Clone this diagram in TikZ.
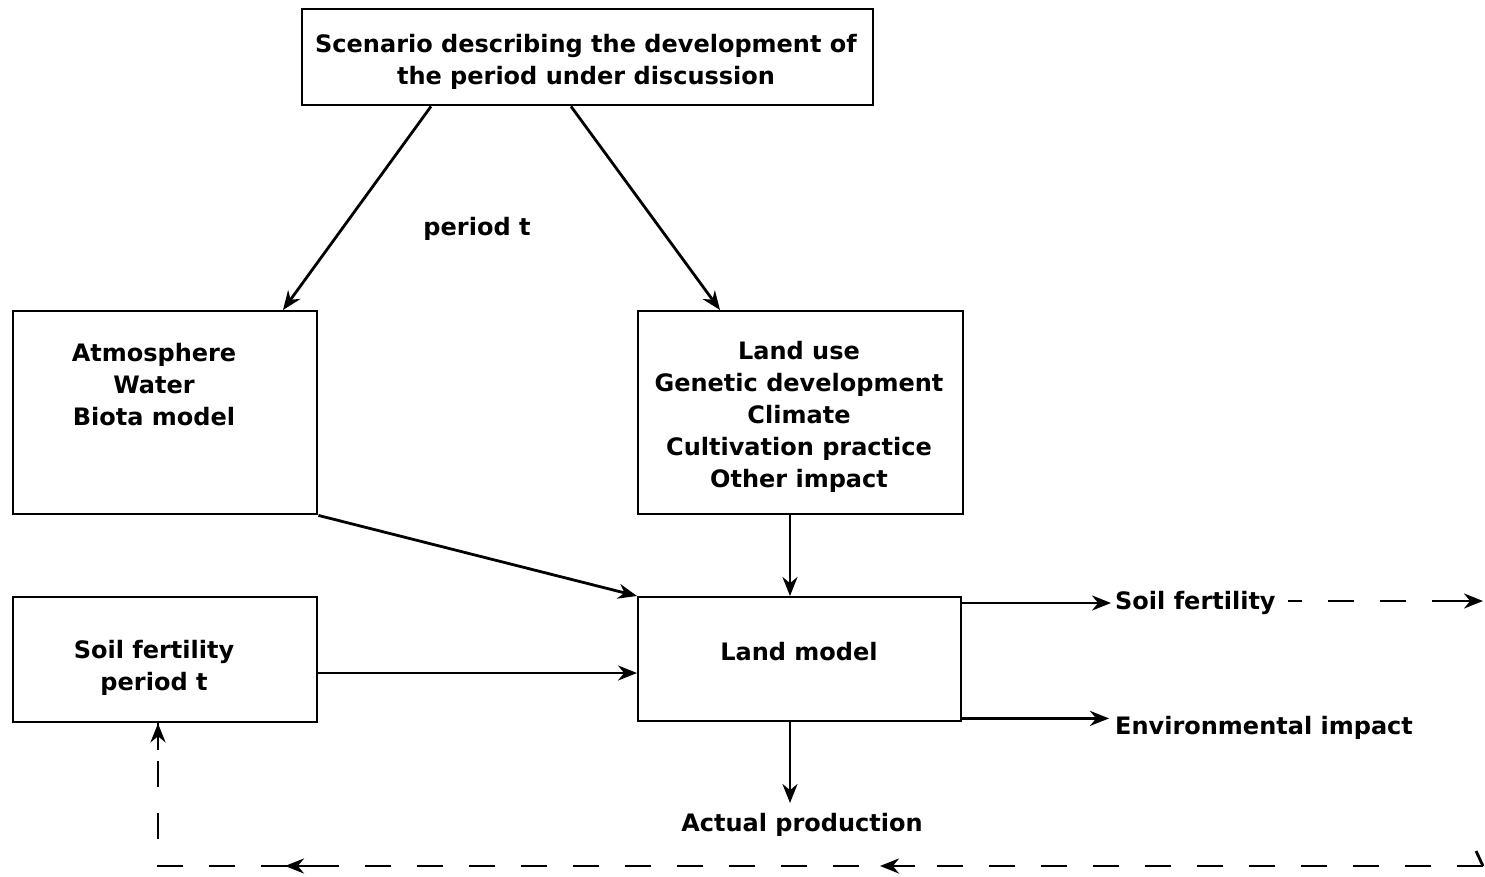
\documentclass[tikz,border=0pt]{standalone}
\usepackage{fontspec}
\setmainfont{DejaVu Sans}
\usetikzlibrary{arrows.meta}
\begin{document}
\begin{tikzpicture}[x=1pt,y=-1pt,
  box/.style={draw,line width=2.4pt},
  txt/.style={font=\fontsize{24}{32}\selectfont\bfseries,align=center,inner sep=0pt},
  tip/.style={-{Stealth[length=19pt,width=15pt]}},
  con/.style={line width=2.8pt,tip},
  dcon/.style={line width=2.8pt,dash pattern=on 26pt off 26pt}]
\useasboundingbox (0,0) rectangle (1485,876);
% boxes
\node[box,minimum width=571pt,minimum height=96pt,anchor=north west] (scen) at (301,8) {};
\node[txt] (scent) at (586,62) {Scenario describing the development of\\the period under discussion};
\node[box,minimum width=304pt,minimum height=203pt,anchor=north west] (atm) at (12,310) {};
\node[txt] (atmt) at (154,385) {Atmosphere\\Water\\Biota model};
\node[box,minimum width=325pt,minimum height=203pt,anchor=north west] (luse) at (637,310) {};
\node[txt] (luset) at (799,417) {Land use\\Genetic development\\Climate\\Cultivation practice\\Other impact};
\node[box,minimum width=304pt,minimum height=125pt,anchor=north west] (soil) at (12,596) {};
\node[txt] (soilt) at (154,668) {Soil fertility\\period t};
\node[box,minimum width=323pt,minimum height=124pt,anchor=north west] (land) at (637,596) {};
\node[txt] (landt) at (799,652) {Land model};
% labels
\node[txt] (pt) at (477,229) {period t};
\node[txt,anchor=west] (sf) at (1115,603) {Soil fertility};
\node[txt,anchor=west] (ei) at (1115,728) {Environmental impact};
\node[txt] (ap) at (802,825) {Actual production};
% connector end points
\path (scen.south west) ++(130,0) coordinate (s1);
\path (atm.north west) ++(271,0) coordinate (a1);
\path (scen.south west) ++(270,0) coordinate (s2);
\path (luse.north west) ++(83,0) coordinate (l1);
\path (luse.south west) ++(153,0) coordinate (l2);
\path (land.north east) ++(0,7) coordinate (r1);
\path (land.south east) ++(0,-4) coordinate (r2);
% connectors
\draw[con] (s1) -- (a1);
\draw[con] (s2) -- (l1);
\draw[con] (atm.south east) -- (land.north west);
\draw[con] (l2) -- (l2 |- land.north);
\draw[con] (soil.east |- 0,673) -- (land.west |- 0,673);
\draw[con] (r1) -- ([xshift=-4pt]sf.west |- r1);
\draw[con] (r2) -- ([xshift=-6pt]ei.west |- r2);
\draw[con] (l2 |- land.south) -- (l2 |- 0,803);
% dashed
\coordinate (dr) at (1483,601);
\draw[dcon,dash phase=12pt] ([xshift=12pt]sf.east |- dr) -- ([xshift=-12pt]dr);
\draw[con] (1455,601) -- (dr);
\coordinate (c1) at (1483,866);
\coordinate (c2) at (158,866);
\draw[line width=2.8pt] (1476,851) -- (c1);
\draw[dcon] (c1) -- (c2) -- (soil.south west -| c2);
\draw[con] (915,866) -- (880,866);
\draw[con] (320,866) -- (285,866);
\draw[con] (158,750) -- (soil.south west -| c2);
\end{tikzpicture}
\end{document}
